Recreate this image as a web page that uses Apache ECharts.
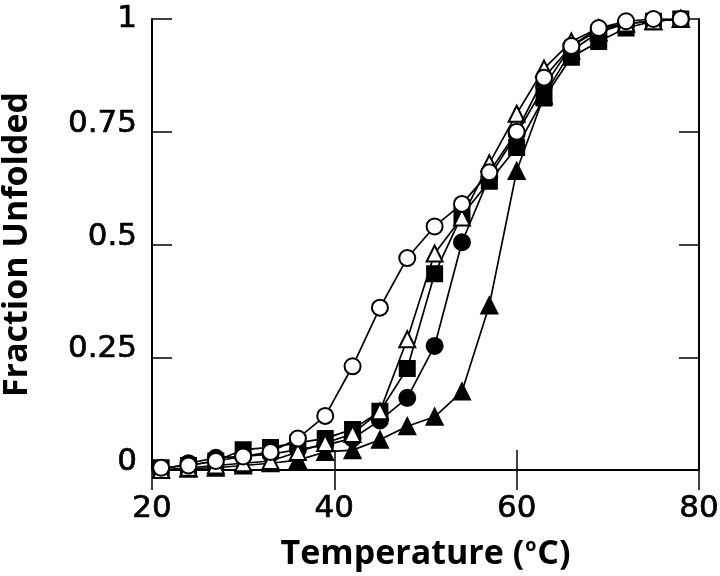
<!DOCTYPE html>
<html><head><meta charset="utf-8">
<script src="https://cdn.jsdelivr.net/npm/echarts@6/dist/echarts.min.js"></script>
<style>html,body{margin:0;padding:0;background:#fff}#c{width:720px;height:576px}</style>
</head><body><div id="c"></div>
<script>
const temps = [21,24,27,30,33,36,39,42,45,48,51,54,57,60,63,66,69,72,75,78];
const openCircle = [0.005,0.01,0.02,0.03,0.04,0.07,0.12,0.23,0.36,0.47,0.54,0.59,0.66,0.75,0.87,0.94,0.98,0.995,1.0,1.0];
const openTriangle = [0,0.005,0.01,0.015,0.02,0.04,0.06,0.08,0.13,0.29,0.48,0.56,0.68,0.79,0.89,0.95,0.98,0.99,0.995,1.0];
const filledSquare = [0.005,0.01,0.02,0.045,0.05,0.06,0.07,0.09,0.13,0.225,0.435,0.565,0.64,0.715,0.825,0.915,0.95,0.98,0.995,1.0];
const filledCircle = [0,0.015,0.027,0.03,0.035,0.045,0.055,0.07,0.11,0.16,0.275,0.505,0.65,0.745,0.85,0.94,0.975,0.99,0.995,1.0];
const filledTriangle = [0,0.003,0.005,0.01,0.015,0.022,0.04,0.044,0.067,0.097,0.118,0.174,0.365,0.663,0.83,0.93,0.97,0.99,0.995,1.0];
const xTicks = [20,40,60,80];
const yTicks = [0,0.25,0.5,0.75,1];

function pts(arr){ return temps.map((t,i)=>[t,arr[i]]); }
function mk(name, data, symbol, filled, size, z){
  return {
    name, type:'line', data: pts(data), symbol, symbolSize:size, z,
    lineStyle:{color:'#000', width:1.7},
    itemStyle:{color: filled ? '#000' : '#fff', borderColor:'#000', borderWidth:2},
    emphasis:{disabled:true}, animation:false
  };
}
const tickFont = {fontFamily:'DejaVu Sans', fontSize:31, color:'#000', textBorderColor:'#000', textBorderWidth:0.7};
const titleFont = {fontFamily:'Open Sans', fontWeight:'bold', fontSize:34, color:'#000'};
const chart = echarts.init(document.getElementById('c'));
chart.setOption({
  animation:false,
  grid:{left:152, right:21, top:19, bottom:106, outerBoundsMode:'none', containLabel:false},
  xAxis:[{
    type:'value', min:20, max:80, interval:20,
    name:'{t|Temperature (}{s|o}{t|C)}', nameLocation:'middle', nameGap:67,
    nameTextStyle:Object.assign({rich:{
      t:Object.assign({}, titleFont),
      s:{fontFamily:'Open Sans', fontWeight:'bold', fontSize:18, color:'#000', verticalAlign:'top', padding:[0,1,14,1]}
    }}, titleFont),
    axisLine:{lineStyle:{color:'#000', width:2}},
    axisTick:{inside:true, length:20, lineStyle:{color:'#000', width:1.5}},
    axisLabel:Object.assign({margin:23, formatter:v=>xTicks.includes(v)?String(v):''}, tickFont),
    splitLine:{show:false}
  },{
    type:'value', min:20, max:80, interval:20, position:'top',
    axisLine:{lineStyle:{color:'#000', width:2}},
    axisTick:{inside:true, length:20, lineStyle:{color:'#000', width:1.5}},
    axisLabel:{show:false}, splitLine:{show:false}
  }],
  yAxis:[{
    type:'value', min:0, max:1, interval:0.25,
    name:'Fraction Unfolded', nameLocation:'middle', nameGap:118,
    nameTextStyle:titleFont,
    axisLine:{lineStyle:{color:'#000', width:2}},
    axisTick:{inside:true, length:20, lineStyle:{color:'#000', width:1.5}},
    axisLabel:Object.assign({margin:15,
      formatter:v=>yTicks.includes(v)?(v===1?'{a|1}':'{b|'+v+'}'):'',
      rich:{a:Object.assign({},tickFont), b:Object.assign({padding:[0,0,16,0]},tickFont)}
    }, tickFont),
    splitLine:{show:false}
  },{
    type:'value', min:0, max:1, interval:0.25, position:'right',
    axisLine:{lineStyle:{color:'#000', width:2}},
    axisTick:{inside:true, length:20, lineStyle:{color:'#000', width:1.5}},
    axisLabel:{show:false}, splitLine:{show:false}
  }],
  series:[
    mk('filledTriangle', filledTriangle, 'triangle', true, 16, 2),
    mk('filledCircle', filledCircle, 'circle', true, 16, 3),
    mk('filledSquare', filledSquare, 'rect', true, 15, 4),
    mk('openTriangle', openTriangle, 'triangle', false, 16, 5),
    mk('openCircle', openCircle, 'circle', false, 16, 6)
  ]
});
</script></body></html>
